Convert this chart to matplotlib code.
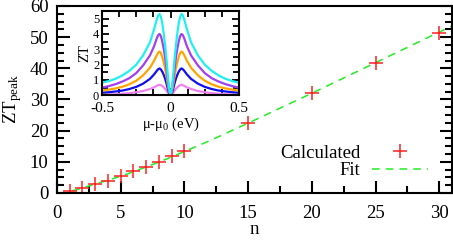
import matplotlib
matplotlib.use("Agg")
import matplotlib.pyplot as plt
import numpy as np
from matplotlib.ticker import MultipleLocator

plt.rcParams['font.family'] = ['Liberation Serif', 'DejaVu Serif']
plt.rcParams['mathtext.fontset'] = 'custom'
plt.rcParams['mathtext.rm'] = 'Liberation Serif'
plt.rcParams['mathtext.it'] = 'Liberation Serif:italic'

# main plot data
n_calc = [1, 2, 3, 4, 5, 6, 7, 8, 9, 10, 15, 20, 25, 30]
zt_calc = [0.6, 1.7, 2.8, 3.9, 5.6, 6.9, 8.4, 10.0, 11.8, 13.6, 22.6, 32.1, 41.7, 51.4]

n_fit = [1.2, 1.5, 2, 3, 4, 5, 6, 8, 10, 12, 15, 20, 25, 31]
zt_fit = [0.7, 1.0, 1.6, 2.9, 4.1, 5.4, 6.8, 9.9, 13.3, 16.8, 22.4, 32.0, 41.8, 53.6]

# inset data (right half, curves are symmetric about 0)
mu_half = [0, 0.01, 0.02, 0.03, 0.04, 0.05, 0.06, 0.07, 0.08, 0.09, 0.10,
           0.12, 0.15, 0.20, 0.25, 0.30, 0.35, 0.40, 0.45, 0.50]
zt_cyan = [0, 0.45, 1.35, 2.4, 3.3, 4.05, 4.7, 5.1, 5.3, 5.2, 4.95,
           4.3, 3.45, 2.6, 2.0, 1.6, 1.3, 1.08, 0.93, 0.82]
zt_purple = [0, 0.33, 1.0, 1.8, 2.5, 3.05, 3.5, 3.85, 4.0, 3.92, 3.72,
             3.2, 2.6, 1.95, 1.45, 1.12, 0.9, 0.73, 0.6, 0.5]
zt_orange = [0, 0.23, 0.7, 1.28, 1.78, 2.17, 2.5, 2.75, 2.85, 2.78, 2.62,
             2.25, 1.8, 1.3, 0.95, 0.72, 0.56, 0.45, 0.37, 0.31]
zt_blue = [0, 0.14, 0.43, 0.79, 1.1, 1.34, 1.54, 1.68, 1.75, 1.7, 1.6,
           1.36, 1.07, 0.76, 0.55, 0.41, 0.31, 0.25, 0.2, 0.17]
zt_violet = [0, 0.06, 0.17, 0.31, 0.43, 0.52, 0.6, 0.66, 0.68, 0.66, 0.62,
             0.52, 0.41, 0.28, 0.2, 0.14, 0.1, 0.07, 0.05, 0.04]

def mirror(mu, y):
    mu = np.array(mu)
    y = np.array(y)
    return np.concatenate([-mu[::-1], mu[1:]]), np.concatenate([y[::-1], y[1:]])

fig = plt.figure(figsize=(4.53, 2.41), dpi=100)
ax = fig.add_axes([0.1258, 0.1992, 0.872, 0.776])

ax.plot(n_fit, zt_fit, color='#22ee22', lw=1.1, dashes=(5, 4), label='Fit')
ax.plot(n_calc, zt_calc, ls='none', marker='+', ms=10, mew=1.1, color='#ff2020',
        label='Calculated')

ax.set_xlim(0, 31)
ax.set_ylim(0, 60)
ax.xaxis.set_major_locator(MultipleLocator(5))
ax.xaxis.set_minor_locator(MultipleLocator(2.5))
ax.yaxis.set_major_locator(MultipleLocator(10))
ax.yaxis.set_minor_locator(MultipleLocator(2.5))
ax.tick_params(which='both', direction='in', right=True, top=False, width=1.5,
               labelsize=13.5)
ax.tick_params(which='major', length=9)
ax.tick_params(which='minor', length=5)
ax.tick_params(axis='x', which='both', pad=9)
ax.tick_params(axis='y', which='both', pad=6)
for s in ax.spines.values():
    s.set_linewidth(1.5)
ax.set_xlabel('n', fontsize=13.5, labelpad=-1)
ax.set_ylabel(r'ZT$_{\rm peak}$', fontsize=13.5, labelpad=4)

h, l = ax.get_legend_handles_labels()
ax.legend(h[::-1], l[::-1], loc='center right', bbox_to_anchor=(0.939, 0.166),
          frameon=False, markerfirst=False, fontsize=13.5, handlelength=3.0,
          handletextpad=0.6, labelspacing=0.0, borderpad=0, borderaxespad=0,
          numpoints=1)

# inset
ins = fig.add_axes([0.2252, 0.6046, 0.3024, 0.35])
for y, c in [(zt_violet, '#ee82ee'), (zt_blue, '#1010ee'), (zt_orange, '#ffa500'),
             (zt_purple, '#a040f0'), (zt_cyan, '#20f0f0')]:
    xm, ym = mirror(mu_half, y)
    ins.plot(xm, ym, color=c, lw=1.6)
ins.set_xlim(-0.5, 0.5)
ins.set_ylim(0, 5.5)
ins.xaxis.set_major_locator(MultipleLocator(0.5))
ins.xaxis.set_minor_locator(MultipleLocator(0.125))
ins.yaxis.set_major_locator(MultipleLocator(1))
ins.yaxis.set_minor_locator(MultipleLocator(0.5))
ins.xaxis.set_major_formatter(matplotlib.ticker.FuncFormatter(
    lambda v, p: '0' if abs(v) < 1e-9 else ('%g' % v)))
ins.tick_params(which='both', direction='in', top=True, right=True, width=1.3)
ins.tick_params(which='major', length=5)
ins.tick_params(which='minor', length=4)
ins.tick_params(axis='x', labelsize=11, pad=5)
ins.tick_params(axis='y', labelsize=9, pad=2)
for lab in ins.get_yticklabels():
    lab.set_va('center_baseline')
for s in ins.spines.values():
    s.set_linewidth(1.5)
ins.set_xlabel(r'$\mathrm{\mu}$-$\mathrm{\mu}_0$ (eV)', fontsize=10.5, labelpad=0.5)
ins.set_ylabel('ZT', fontsize=10.5, labelpad=1)

fig.savefig('out.png', dpi=100)
